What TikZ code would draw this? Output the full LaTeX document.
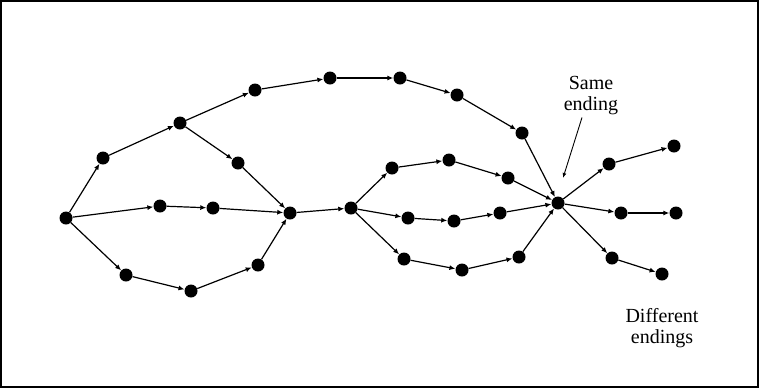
\documentclass[tikz,border=0pt]{standalone}
\usepackage{fontspec}
\setmainfont{Liberation Serif}
\usetikzlibrary{arrows.meta}

\begin{document}
\begin{tikzpicture}[x=1pt, y=-1pt,
    etat/.style={circle, fill=black, inner sep=0pt, minimum size=13pt},
    trans/.style={-{Latex[length=6pt, width=5pt]}, line width=1.2pt},
    legende/.style={align=center, inner sep=2pt, font=\fontsize{20}{21}\selectfont}]
  \useasboundingbox (0,0) rectangle (760,389);
  % Cadre
  \draw[line width=1.2pt] (1,1) rectangle (758,387);
  % Etats
  \node[etat] (S) at (66,218) {};
  \node[etat] (a1) at (103,158) {};
  \node[etat] (a2) at (180,123) {};
  \node[etat] (a3) at (255,90) {};
  \node[etat] (a4) at (330,78) {};
  \node[etat] (a5) at (400,78) {};
  \node[etat] (a6) at (457,95) {};
  \node[etat] (a7) at (522,133) {};
  \node[etat] (b1) at (238,163) {};
  \node[etat] (c1) at (160,206) {};
  \node[etat] (c2) at (213,208) {};
  \node[etat] (d1) at (126,275) {};
  \node[etat] (d2) at (191,291) {};
  \node[etat] (d3) at (258,265) {};
  \node[etat] (M) at (290,213) {};
  \node[etat] (N) at (351,208) {};
  \node[etat] (e1) at (392,168) {};
  \node[etat] (e2) at (449,160) {};
  \node[etat] (e3) at (508,178) {};
  \node[etat] (f1) at (408,218) {};
  \node[etat] (f2) at (454,221) {};
  \node[etat] (f3) at (500,213) {};
  \node[etat] (g1) at (404,259) {};
  \node[etat] (g2) at (462,270) {};
  \node[etat] (g3) at (519,257) {};
  \node[etat] (X) at (558,203) {};
  \node[etat] (h1) at (609,164) {};
  \node[etat] (h2) at (674,146) {};
  \node[etat] (i1) at (621,213) {};
  \node[etat] (i2) at (676,213) {};
  \node[etat] (j1) at (612,258) {};
  \node[etat] (j2) at (662,274) {};
  % Premiere partie
  \path[draw, trans] (S) edge (a1) (a1) edge (a2) (a2) edge (a3) (a3) edge (a4)
    (a4) edge (a5) (a5) edge (a6) (a6) edge (a7) (a7) edge (X);
  \path[draw, trans] (a2) edge (b1) (b1) edge (M);
  \path[draw, trans] (S) edge (c1) (c1) edge (c2) (c2) edge (M);
  \path[draw, trans] (S) edge (d1) (d1) edge (d2) (d2) edge (d3) (d3) edge (M);
  \path[draw, trans] (M) edge (N);
  % Deuxieme partie
  \path[draw, trans] (N) edge (e1) (e1) edge (e2) (e2) edge (e3) (e3) edge (X);
  \path[draw, trans] (N) edge (f1) (f1) edge (f2) (f2) edge (f3) (f3) edge (X);
  \path[draw, trans] (N) edge (g1) (g1) edge (g2) (g2) edge (g3) (g3) edge (X);
  % Fins
  \path[draw, trans] (X) edge (h1) (h1) edge (h2);
  \path[draw, trans] (X) edge (i1) (i1) edge (i2);
  \path[draw, trans] (X) edge (j1) (j1) edge (j2);
  % Legendes
  \node[legende] (meme) at (591,96) {Same\\ending};
  \coordinate (pointe) at (563,178);
  \draw[-{Latex[length=5pt, width=4pt]}, line width=0.9pt] ([xshift=-9pt]meme.south) -- (pointe);
  \node[legende] (diff) at (662,328) {Different\\endings};
\end{tikzpicture}
\end{document}
